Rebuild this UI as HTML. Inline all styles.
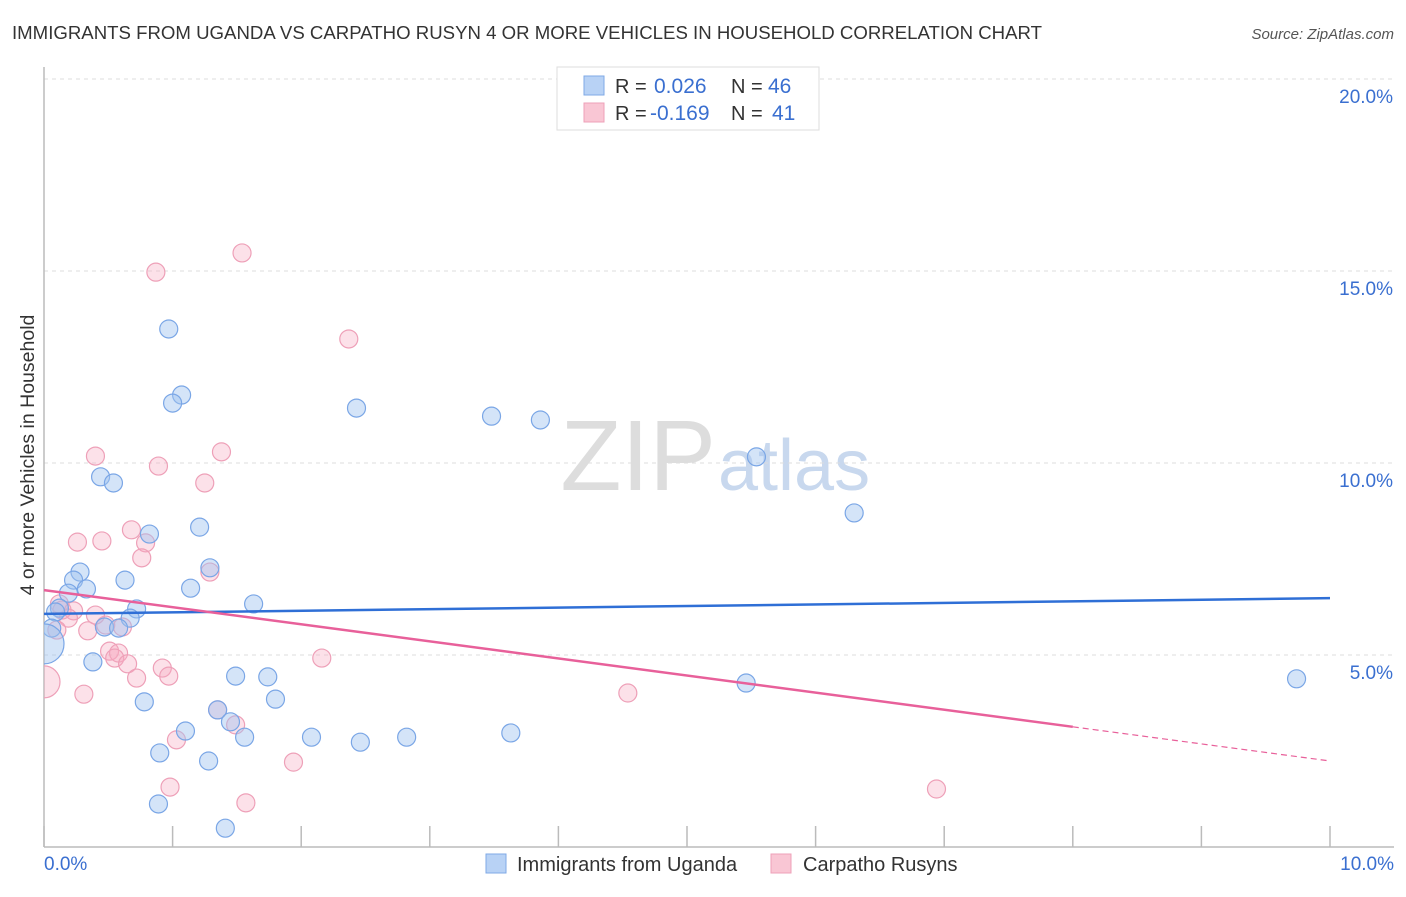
<!DOCTYPE html>
<html><head><meta charset="utf-8"><style>
body{margin:0;background:#fff;font-family:"Liberation Sans",sans-serif;}
svg text{font-family:"Liberation Sans",sans-serif;}
</style></head><body>
<svg id="chart" width="1406" height="892" xmlns="http://www.w3.org/2000/svg">
<defs><clipPath id="plotclip"><rect x="44" y="60" width="1360" height="787"/></clipPath></defs>
<text x="12" y="39" font-size="18" fill="#333" textLength="1030" lengthAdjust="spacingAndGlyphs">IMMIGRANTS FROM UGANDA VS CARPATHO RUSYN 4 OR MORE VEHICLES IN HOUSEHOLD CORRELATION CHART</text>
<text x="1394" y="39" font-size="15" fill="#555" font-style="italic" text-anchor="end">Source: ZipAtlas.com</text>
<text x="716" y="490" font-size="100" fill="#ddd" text-anchor="end" font-family="Liberation Serif">ZIP</text>
<text x="718" y="490" font-size="72" fill="#c8d8ee">atlas</text>
<text transform="translate(34,455) rotate(-90)" font-size="19.5" fill="#333" text-anchor="middle">4 or more Vehicles in Household</text>
<g id="grid"></g><g id="axes"></g><g id="pts" clip-path="url(#plotclip)"></g><g id="trends"></g>
<g>
<rect x="557" y="67" width="262" height="63" fill="#fff" stroke="#ddd"/>
<rect x="584" y="76" width="20" height="19" fill="#b8d2f5" stroke="#7fa9e6"/>
<rect x="584" y="103" width="20" height="19" fill="#f9c6d4" stroke="#eea0b8"/>
<text x="615" y="93" font-size="20" fill="#333">R = </text><text x="654" y="93" font-size="21" fill="#3a6fd0">0.026</text>
<text x="731" y="93" font-size="20" fill="#333">N = </text><text x="768" y="93" font-size="21" fill="#3a6fd0">46</text>
<text x="615" y="120" font-size="20" fill="#333">R = </text><text x="650" y="120" font-size="21" fill="#3a6fd0">-0.169</text>
<text x="731" y="120" font-size="20" fill="#333">N = </text><text x="772" y="120" font-size="21" fill="#3a6fd0">41</text>
</g>
<g>
<rect x="486" y="854" width="20" height="19" fill="#b8d2f5" stroke="#7fa9e6"/>
<text x="517" y="871" font-size="20" fill="#333">Immigrants from Uganda</text>
<rect x="771" y="854" width="20" height="19" fill="#f9c6d4" stroke="#eea0b8"/>
<text x="803" y="871" font-size="20" fill="#333">Carpatho Rusyns</text>
</g>
</svg>
<script>
const xTicks=[0,1,2,3,4,5,6,7,8,9,10];
const yTicks=[5,10,15,20];
const yTickLabels=["5.0%","10.0%","15.0%","20.0%"];
const ugandaX=[0.97,1.07,1.00,2.43,3.48,3.86,5.54,0.44,0.54,6.30,1.21,0.82,1.29,0.28,0.23,0.63,0.33,0.19,1.14,1.63,0.72,0.12,0.09,0.67,0.47,0.58,0.06,0.38,1.49,1.74,5.46,9.74,0.78,1.80,1.35,1.45,1.10,1.56,2.08,2.46,2.82,3.63,0.90,1.28,0.89,1.41];
const ugandaY=[13.49,11.77,11.56,11.43,11.22,11.12,10.16,9.64,9.48,8.70,8.33,8.15,7.27,7.16,6.95,6.95,6.72,6.61,6.74,6.33,6.20,6.22,6.12,5.96,5.73,5.70,5.70,4.82,4.45,4.43,4.27,4.38,3.78,3.85,3.57,3.26,3.02,2.86,2.86,2.73,2.86,2.97,2.45,2.24,1.12,0.49];
const rusynX=[1.54,0.87,2.37,0.40,1.38,0.89,1.25,0.68,0.79,0.26,0.45,0.76,1.29,0.12,0.14,0.23,0.19,0.34,0.61,0.48,0.51,0.58,0.55,0.65,0.92,0.97,0.72,2.16,4.54,0.31,1.35,1.49,1.03,1.94,0.98,1.57,6.94,0.10,0.40];
const rusynY=[15.47,14.97,13.23,10.18,10.29,9.92,9.48,8.26,7.92,7.94,7.97,7.53,7.16,6.33,6.17,6.15,5.96,5.63,5.73,5.78,5.10,5.05,4.92,4.77,4.66,4.45,4.40,4.92,4.01,3.98,3.57,3.18,2.79,2.21,1.56,1.15,1.51,5.65,6.04];
const bigX=[0.0,0.0], bigY=[5.29,4.30];
const ugandaTrend=[6.07,6.48];
const rusynTrend=[6.69,2.24];
const NS="http://www.w3.org/2000/svg";
const sx=v=>44+v*128.6, sy=v=>847-v*38.4;
function mk(tag,attrs,parent){const e=document.createElementNS(NS,tag);for(const k in attrs)e.setAttribute(k,attrs[k]);parent.appendChild(e);return e;}
const grid=document.getElementById('grid'),axes=document.getElementById('axes'),pts=document.getElementById('pts'),tr=document.getElementById('trends');
yTicks.forEach((t,i)=>{
 const l=mk('line',{x1:44,x2:1394,y1:sy(t),y2:sy(t),stroke:'#ddd','stroke-dasharray':'4,4'},grid);
 
 
 const tx=mk('text',{x:1393,y:sy(t)+24,'font-size':19,fill:'#3a6fd0','text-anchor':'end'},grid);
 tx.textContent=yTickLabels[i];
 
 
});
const ya=mk('line',{x1:44,x2:44,y1:67,y2:847,stroke:'#bbb','stroke-width':1.5},axes);


const xa=mk('line',{x1:44,x2:1394,y1:847,y2:847,stroke:'#bbb','stroke-width':1.5},axes);


xTicks.forEach(t=>{
 const l=mk('line',{x1:sx(t),x2:sx(t),y1:826,y2:847,stroke:'#bbb','stroke-width':1.5},axes);
 
 
});
const xl0=mk('text',{x:44,y:870,'font-size':19,fill:'#3a6fd0'},axes);xl0.textContent='0.0%';


const xl1=mk('text',{x:1394,y:870,'font-size':19,fill:'#3a6fd0','text-anchor':'end'},axes);xl1.textContent='10.0%';


function dot(x,y,r,blue){
 const c=mk('circle',{cx:sx(x),cy:sy(y),r:r,fill:blue?'rgba(160,195,240,0.45)':'rgba(245,170,192,0.35)',stroke:blue?'#7aa6e6':'#eea0b8','stroke-width':1.2},pts);
 
 
}
rusynX.forEach((x,i)=>dot(x,rusynY[i],9,false));
ugandaX.forEach((x,i)=>dot(x,ugandaY[i],9,true));
dot(bigX[1],bigY[1],16,false);
dot(bigX[0],bigY[0],20,true);
const bl=mk('line',{x1:sx(0),y1:sy(ugandaTrend[0]),x2:sx(10),y2:sy(ugandaTrend[1]),stroke:'#2f6fd6','stroke-width':2.5},tr);


const pm=v=>rusynTrend[0]+(rusynTrend[1]-rusynTrend[0])*v/10;
const pl=mk('line',{x1:sx(0),y1:sy(pm(0)),x2:sx(8),y2:sy(pm(8)),stroke:'#e8609a','stroke-width':2.5},tr);


const pd=mk('line',{x1:sx(8),y1:sy(pm(8)),x2:sx(10),y2:sy(pm(10)),stroke:'#e8609a','stroke-width':1.2,'stroke-dasharray':'6,4'},tr);


</script>
</body></html>
